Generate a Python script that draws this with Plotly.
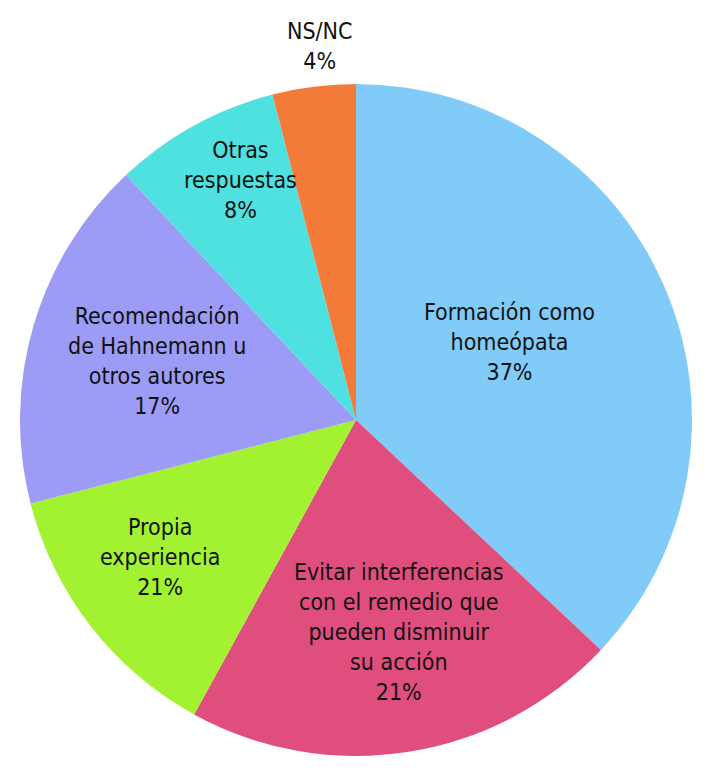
import plotly.graph_objects as go

labels = ["Formación como homeópata", "Evitar interferencias con el remedio que pueden disminuir su acción",
          "Propia experiencia", "Recomendación de Hahnemann u otros autores", "Otras respuestas", "NS/NC"]
values = [37, 21, 13, 17, 8, 4]
label_text = [
    "Formación como<br>homeópata<br>37%",
    "Evitar interferencias<br>con el remedio que<br>pueden disminuir<br>su acción<br>21%",
    "Propia<br>experiencia<br>21%",
    "Recomendación<br>de Hahnemann u<br>otros autores<br>17%",
    "Otras<br>respuestas<br>8%",
    "NS/NC<br>4%",
]
colors = ["#80CBF8", "#E04E7E", "#A2F232", "#9C9CF6", "#4FE0E0", "#F47A3A"]
# label centre pixel positions (x, y) as seen on the page
label_px = [(510, 342), (399, 632), (160, 557), (157, 361), (240, 180), (320, 46)]

W, H = 714, 770
OFF = 8  # page body margin
cx, cy, r = 356 - OFF, 420 - OFF, 336

fig = go.Figure(go.Pie(
    labels=labels, values=values, sort=False, direction="clockwise", rotation=0,
    marker=dict(colors=colors, line=dict(width=0)),
    textinfo="none", hoverinfo="label+percent", showlegend=False,
    domain=dict(x=[(cx - r) / W, (cx + r) / W], y=[(H - cy - r) / H, (H - cy + r) / H]),
))

for t, (px, py) in zip(label_text, label_px):
    fig.add_annotation(text=t, x=(px - OFF) / W, y=1 - (py - OFF) / H, xref="paper", yref="paper",
                       xanchor="center", yanchor="middle",
                       showarrow=False, align="center",
                       font=dict(family="Liberation Sans Narrow, DejaVu Sans Condensed, Arial Narrow, sans-serif",
                                 size=23, color="#111111"))

fig.update_layout(width=W, height=H, margin=dict(l=0, r=0, t=0, b=0),
                  paper_bgcolor="white", plot_bgcolor="white")
fig.write_html("out.html")
